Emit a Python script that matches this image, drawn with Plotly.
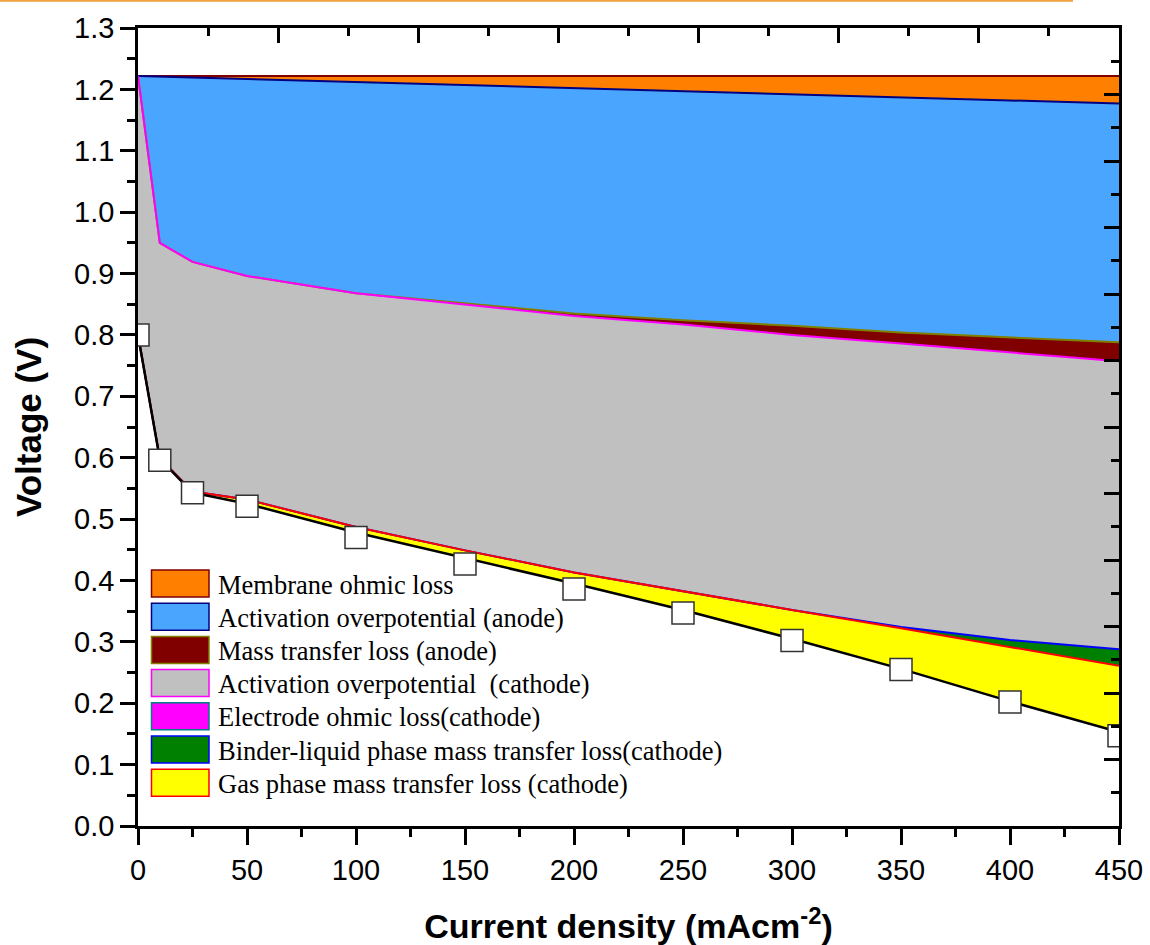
import numpy as np
import plotly.graph_objects as go

# current density (mA cm^-2)
current = [0, 10, 25, 50, 100, 150, 200, 250, 300, 350, 400, 450]

# model cell voltage (V) -- black line
cell_voltage = [0.800, 0.598, 0.543, 0.525, 0.478, 0.437, 0.395, 0.352, 0.305, 0.256, 0.203, 0.153]

# losses (V), stacked from the cell voltage upward
gas_phase_loss = [0.000, 0.001, 0.002, 0.007, 0.009, 0.012, 0.018, 0.030, 0.047, 0.066, 0.089, 0.108]
binder_liquid_loss = [0.000, 0.000, 0.000, 0.000, 0.000, 0.000, 0.000, 0.000, 0.000, 0.002, 0.011, 0.027]
electrode_ohmic_loss = [0.000, 0.000, 0.000, 0.000, 0.000, 0.000, 0.000, 0.000, 0.000, 0.000, 0.000, 0.000]
cathode_activation = [0.422, 0.351, 0.374, 0.364, 0.381, 0.401, 0.418, 0.435, 0.448, 0.462, 0.469, 0.469]
anode_mass_transfer = [0.000, 0.000, 0.000, 0.000, 0.000, 0.002, 0.004, 0.007, 0.015, 0.018, 0.024, 0.031]
anode_activation = [0.000, 0.271, 0.301, 0.322, 0.345, 0.356, 0.368, 0.373, 0.377, 0.383, 0.386, 0.389]
membrane_ohmic_loss = [0.000, 0.001, 0.002, 0.004, 0.009, 0.014, 0.019, 0.025, 0.030, 0.035, 0.040, 0.045]

# experimental cell voltage (V)
exp_voltage = [0.800, 0.596, 0.543, 0.521, 0.470, 0.427, 0.386, 0.347, 0.302, 0.255, 0.202, 0.147]

legend_labels = [
    "Membrane ohmic loss",
    "Activation overpotential (anode)",
    "Mass transfer loss (anode)",
    "Activation overpotential  (cathode)",
    "Electrode ohmic loss(cathode)",
    "Binder-liquid phase mass transfer loss(cathode)",
    "Gas phase mass transfer loss (cathode)",
]
legend_fill = ["#FF8000", "#4AA5FF", "#800000", "#C0C0C0", "#FF00FF", "#008000", "#FFFF00"]
legend_edge = ["#800000", "#000080", "#808000", "#FF00FF", "#008080", "#0000FF", "#FF0000"]

# stacked layers bottom -> top: (values, fill colour, edge-line colour)
layers = [
    (gas_phase_loss, "#FFFF00", "#FF0000"),
    (binder_liquid_loss, "#008000", "#0000FF"),
    (electrode_ohmic_loss, "#FF00FF", "#0000FF"),
    (cathode_activation, "#C0C0C0", "#FF00FF"),
    (anode_mass_transfer, "#800000", "#808000"),
    (anode_activation, "#4AA5FF", "#000080"),
    (membrane_ohmic_loss, "#FF8000", "#800000"),
]

fig = go.Figure()

# filled stack (fills only)
fig.add_trace(go.Scatter(
    x=current, y=cell_voltage, mode="lines", stackgroup="v",
    fillcolor="rgba(0,0,0,0)", line=dict(color="rgba(0,0,0,0)", width=0),
    showlegend=False, hoverinfo="skip"))
for vals, fc, lc in layers:
    fig.add_trace(go.Scatter(
        x=current, y=vals, mode="lines", stackgroup="v",
        fillcolor=fc, line=dict(color=fc, width=0),
        showlegend=False, hoverinfo="skip"))

# edge lines: upper layers first so lower edges sit on top
bounds = np.cumsum(np.vstack([cell_voltage] + [l[0] for l in layers]), axis=0)
edge_colors = ["black"] + [l[2] for l in layers]
for k in range(len(layers), -1, -1):
    if k == 3:  # edge of the (empty) electrode-ohmic layer is hidden
        continue
    fig.add_trace(go.Scatter(
        x=current, y=bounds[k], mode="lines",
        line=dict(color=edge_colors[k], width=2.5 if k == 0 else 2),
        showlegend=False, hoverinfo="skip"))

fig.add_trace(go.Scatter(
    x=current, y=exp_voltage, mode="markers",
    marker=dict(symbol="square", size=22, color="white",
                line=dict(color="#333333", width=1.5)),
    showlegend=False, cliponaxis=True))

# dummy trace so the mirrored (top/right) axes exist
fig.add_trace(go.Scatter(x=[None], y=[None], xaxis="x2", yaxis="y2",
                         showlegend=False, hoverinfo="skip"))

# plot area in pixels
L, R, T, B = 138, 1119, 28, 826
W, H = R - L, B - T


def px(x):
    return (x - L) / W


def py(y):
    return (B - y) / H


shapes = []
annotations = []
sw_x0, sw_x1 = 151.5, 209
row0, pitch, sh = 570, 33.2, 27
for i, lab in enumerate(legend_labels):
    top = row0 + i * pitch
    shapes.append(dict(type="rect", xref="paper", yref="paper",
                       x0=px(sw_x0), x1=px(sw_x1), y0=py(top + sh), y1=py(top),
                       fillcolor=legend_fill[i], line=dict(color=legend_edge[i], width=1.5)))
    annotations.append(dict(xref="paper", yref="paper", x=px(216), y=py(top + sh / 2 + 1),
                            xanchor="left", yanchor="middle", text=lab, showarrow=False,
                            font=dict(family="Liberation Serif", size=26.5, color="black")))

# thin orange rule at the very top of the image
shapes.append(dict(type="line", xref="paper", yref="paper",
                   x0=px(0), x1=px(1073), y0=py(0.8), y1=py(0.8),
                   line=dict(color="#F5A040", width=2)))

axis_font = dict(family="Liberation Sans", size=29, color="black")

fig.update_layout(
    template="none",
    width=1150, height=945,
    margin=dict(l=L, r=1150 - R, t=T, b=945 - B, pad=0),
    paper_bgcolor="white", plot_bgcolor="white",
    showlegend=False,
    shapes=shapes, annotations=annotations,
    xaxis=dict(range=[0, 450], dtick=50, tick0=0, showgrid=False, zeroline=False,
               automargin=False,
               showline=True, linecolor="black", linewidth=2.5,
               ticks="outside", ticklen=16, tickwidth=2.5, tickcolor="black",
               minor=dict(dtick=25, ticks="outside", ticklen=8, tickwidth=2.5, tickcolor="black"),
               tickfont=axis_font,
               title=dict(text="<b>Current density (mAcm<sup>-2</sup>)</b>",
                          font=dict(family="Liberation Sans", size=34, color="black"),
                          standoff=34)),
    yaxis=dict(range=[0, 1.3], dtick=0.1, tick0=0, tickformat=".1f", showgrid=False,
               zeroline=False, automargin=False,
               showline=True, linecolor="black", linewidth=2.5,
               ticks="outside", ticklen=15, tickwidth=2.5, tickcolor="black",
               minor=dict(dtick=0.05, ticks="outside", ticklen=8, tickwidth=2.5, tickcolor="black"),
               tickfont=axis_font,
               title=dict(text="<b>Voltage (V)</b>",
                          font=dict(family="Liberation Sans", size=35, color="black"),
                          standoff=22)),
    xaxis2=dict(overlaying="x", side="top", anchor="y", range=[0, 7], dtick=1,
                automargin=False,
                showgrid=False, zeroline=False, showline=True, linecolor="black", linewidth=2.5,
                ticks="inside", ticklen=15, tickwidth=2.5, tickcolor="black",
                minor=dict(dtick=0.5, ticks="inside", ticklen=8, tickwidth=2.5, tickcolor="black"),
                showticklabels=False),
    yaxis2=dict(overlaying="y", side="right", anchor="x", range=[0, 12], dtick=1,
                automargin=False,
                showgrid=False, zeroline=False, showline=True, linecolor="black", linewidth=2.5,
                ticks="inside", ticklen=15, tickwidth=2.5, tickcolor="black",
                minor=dict(dtick=0.5, ticks="inside", ticklen=8, tickwidth=2.5, tickcolor="black"),
                showticklabels=False),
)

fig.write_html("out.html")
